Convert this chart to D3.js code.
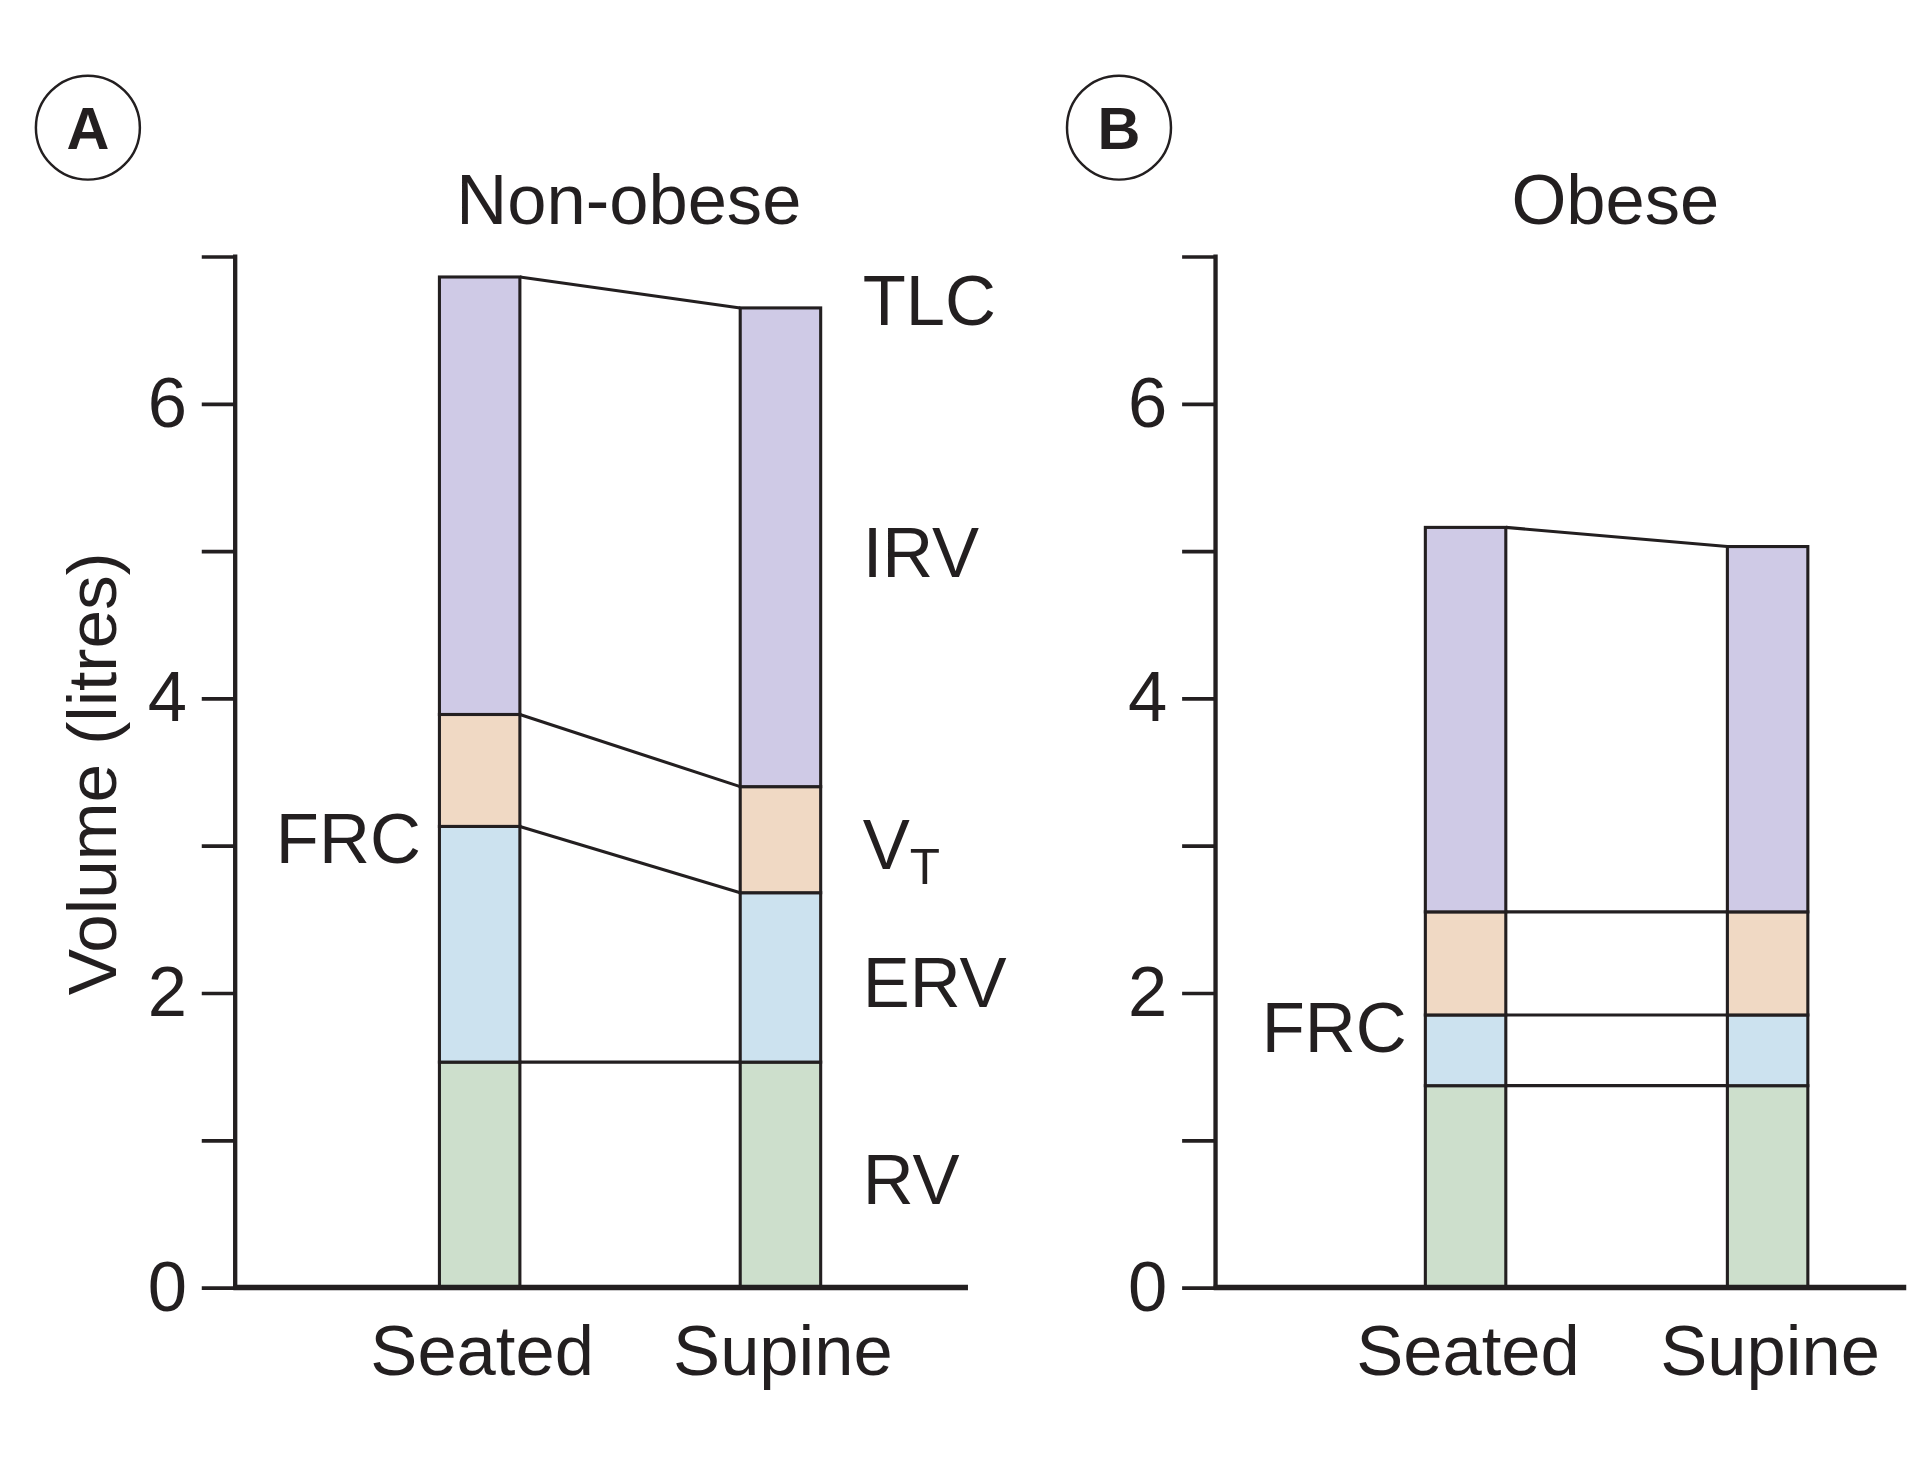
<!DOCTYPE html>
<html>
<head>
<meta charset="utf-8">
<script src="https://cdn.jsdelivr.net/npm/d3@7"></script>
<style>
  body { margin: 0; background: #fff; }
  text { font-family: "Liberation Sans", Arial, sans-serif; fill: #231f20; }
</style>
</head>
<body>
<div class="board"></div>
<script>
// lung volumes, seated vs supine (litres)
var categories = ['Seated', 'Supine'];
var compartments = ['RV', 'ERV', 'VT', 'IRV'];
var colors = { RV: '#cddfcc', ERV: '#cce2ef', VT: '#f0d9c4', IRV: '#cfcae6' };

// volume of each compartment, bottom to top
var nonObeseSeated = [1.53, 1.60, 0.76, 2.97];
var nonObeseSupine = [1.53, 1.15, 0.72, 3.25];
var obeseSeated = [1.37, 0.48, 0.70, 2.61];
var obeseSupine = [1.37, 0.48, 0.70, 2.48];

var yTicks = [0, 1, 2, 3, 4, 5, 6, 7];
var yTickLabels = ['0', '', '2', '', '4', '', '6', ''];

var width = 1560;
var height = 1193;

var svg = d3.select('.board').append('svg')
  .attr('width', 1931)
  .attr('height', 1477)
  .attr('viewBox', '0 0 ' + width + ' ' + height);

var y = d3.scaleLinear().domain([0, 7]).range([1040, 207]);
var barW = 65;

var toRows = function (seated, supine) {
  return [seated, supine].map(function (vals, i) {
    var row = { cat: categories[i] };
    compartments.forEach(function (c, j) { row[c] = vals[j]; });
    return row;
  });
};

var panels = [
  { letter: 'A', title: 'Non-obese', circleX: 71, axisX: 190, axisEnd: 782, first: 387.5, second: 630.5,
    rows: toRows(nonObeseSeated, nonObeseSupine), labels: true },
  { letter: 'B', title: 'Obese', circleX: 904, axisX: 982, axisEnd: 1540, first: 1184, second: 1428,
    rows: toRows(obeseSeated, obeseSupine), labels: false }
];

panels.forEach(function (p) {
  var g = svg.append('g');
  var x = d3.scalePoint().domain(categories).range([p.first, p.second]);
  var stack = d3.stack().keys(compartments)(p.rows);

  // panel letter in a circle
  g.append('circle')
    .attr('cx', p.circleX).attr('cy', 103).attr('r', 42)
    .attr('fill', 'none').attr('stroke', '#231f20').attr('stroke-width', 2);
  g.append('text')
    .attr('x', p.circleX).attr('y', 120)
    .attr('text-anchor', 'middle')
    .style('font-size', '48px').style('font-weight', 'bold')
    .text(p.letter);

  g.append('text')
    .attr('x', (p.first + p.second) / 2 - 1).attr('y', 181)
    .attr('text-anchor', 'middle')
    .style('font-size', '57px')
    .text(p.title);

  // y axis
  var yAxis = d3.axisLeft(y).tickValues(yTicks)
    .tickFormat(function (d, i) { return yTickLabels[i]; })
    .tickSize(27).tickPadding(12);
  var ax = g.append('g').attr('transform', 'translate(' + p.axisX + ',0)').call(yAxis);
  ax.select('.domain').remove();
  ax.selectAll('.tick line').attr('stroke', '#231f20').attr('stroke-width', 3);
  ax.selectAll('.tick text').style('font-size', '57px').attr('fill', '#231f20')
    .attr('font-family', '"Liberation Sans", Arial, sans-serif');
  g.append('line')
    .attr('x1', p.axisX).attr('x2', p.axisX)
    .attr('y1', y(7) - 1.5).attr('y2', y(0))
    .attr('stroke', '#231f20').attr('stroke-width', 3.5);

  // segments
  stack.forEach(function (layer) {
    g.selectAll(null).data(layer).enter().append('rect')
      .attr('x', function (d) { return x(d.data.cat) - barW / 2; })
      .attr('y', function (d) { return y(d[1]); })
      .attr('width', barW)
      .attr('height', function (d) { return y(d[0]) - y(d[1]); })
      .attr('fill', colors[layer.key])
      .attr('stroke', '#231f20').attr('stroke-width', 2.5);
  });

  // connectors between the two bars
  stack.forEach(function (layer) {
    g.append('line')
      .attr('x1', x('Seated') + barW / 2).attr('y1', y(layer[0][1]))
      .attr('x2', x('Supine') - barW / 2).attr('y2', y(layer[1][1]))
      .attr('stroke', '#231f20').attr('stroke-width', 2.5);
  });

  // x axis
  g.append('line')
    .attr('x1', p.axisX - 1.5).attr('x2', p.axisEnd)
    .attr('y1', y(0)).attr('y2', y(0))
    .attr('stroke', '#231f20').attr('stroke-width', 4.5);

  g.selectAll('.cat').data(categories).enter().append('text')
    .attr('x', function (d) { return x(d) + 2; })
    .attr('y', 1111)
    .attr('text-anchor', 'middle')
    .style('font-size', '57px')
    .text(function (d) { return d; });

  // FRC label beside the seated bar
  var frcTop = stack[1][0][1];
  g.append('text')
    .attr('x', x('Seated') - barW / 2 - 15)
    .attr('y', y(frcTop) + 10)
    .attr('dy', '0.35em')
    .attr('text-anchor', 'end')
    .style('font-size', '57px')
    .text('FRC');

  if (p.labels) {
    var lx = x('Supine') + barW / 2 + 34;
    var sup = 1;
    g.append('text').attr('x', lx).attr('y', y(stack[3][sup][1]) - 6).attr('dy', '0.35em')
      .style('font-size', '57px').text('TLC');
    stack.forEach(function (layer) {
      var mid = (layer[sup][0] + layer[sup][1]) / 2;
      var t = g.append('text').attr('x', lx).attr('y', y(mid) + 4).attr('dy', '0.35em')
        .style('font-size', '57px');
      if (layer.key === 'VT') {
        t.text('V');
        t.append('tspan').attr('dy', '0.3em').style('font-size', '40px').text('T');
      } else {
        t.text(layer.key);
      }
    });
  }
});

// axis title
svg.append('text')
  .attr('transform', 'translate(94,625) rotate(-90)')
  .attr('text-anchor', 'middle')
  .style('font-size', '56px')
  .text('Volume (litres)');
</script>
</body>
</html>
